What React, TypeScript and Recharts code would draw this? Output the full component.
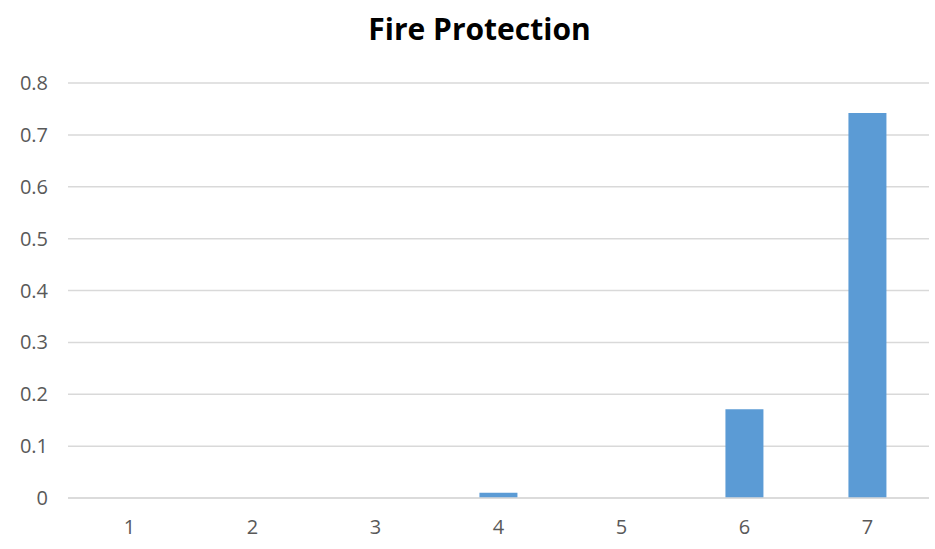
import { BarChart, Bar, XAxis, YAxis, CartesianGrid } from 'recharts'

const categories = ['1', '2', '3', '4', '5', '6', '7']
const values = [0, 0, 0, 0.01, 0, 0.171, 0.742]
const yTicks = [0, 0.1, 0.2, 0.3, 0.4, 0.5, 0.6, 0.7, 0.8]

const data = categories.map((c, i) => ({ name: c, value: values[i] }))

const tickStyle = { fontSize: 20, fill: '#595959', fontFamily: 'Open Sans' }

export default function App() {
  return (
    <div
      style={{
        position: 'absolute',
        top: 0,
        left: 0,
        width: 935,
        height: 549,
        background: '#fff',
        fontFamily: 'Open Sans',
      }}
    >
      <div
        style={{
          position: 'absolute',
          top: 8,
          left: 0,
          width: 959,
          textAlign: 'center',
          fontSize: 30,
          fontWeight: 700,
          color: '#000',
          whiteSpace: 'nowrap',
        }}
      >
        Fire Protection
      </div>
      <BarChart
        width={935}
        height={549}
        data={data}
        margin={{ top: 83, right: 6, left: 0, bottom: 0 }}
        barCategoryGap="34.5%"
      >
        <CartesianGrid vertical={false} stroke="#d9d9d9" strokeWidth={1.5} />
        <XAxis
          dataKey="name"
          height={51}
          tick={tickStyle}
          tickLine={false}
          axisLine={{ stroke: '#d9d9d9', strokeWidth: 1.5 }}
          tickMargin={16}
        />
        <YAxis
          width={68}
          domain={[0, 0.8]}
          ticks={yTicks}
          tick={tickStyle}
          tickLine={false}
          axisLine={false}
          tickMargin={14}
          interval={0}
        />
        <Bar dataKey="value" fill="#5b9bd5" isAnimationActive={false} />
      </BarChart>
    </div>
  )
}
